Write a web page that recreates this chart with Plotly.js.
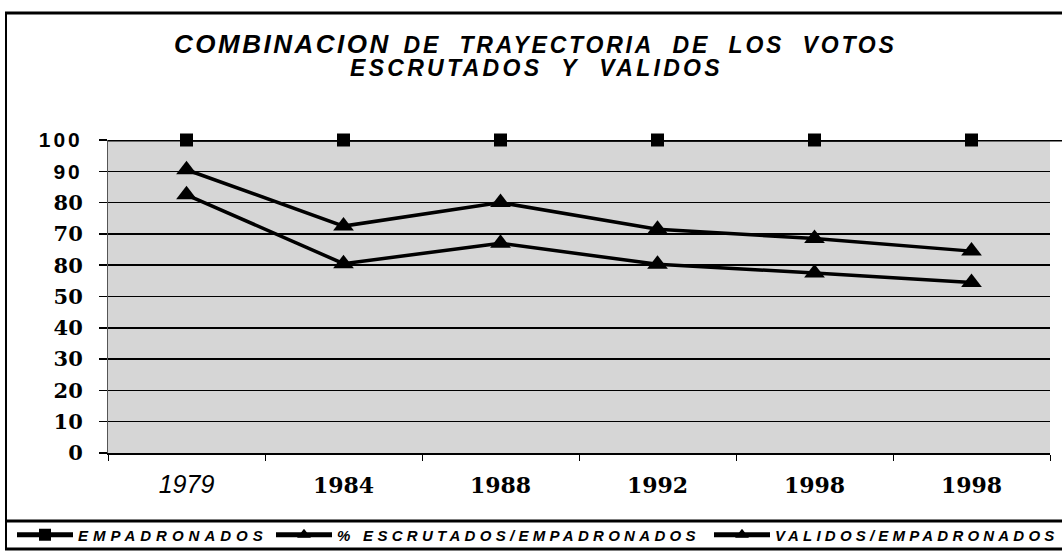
<!DOCTYPE html>
<html>
<head>
<meta charset="utf-8">
<script src="https://cdn.plot.ly/plotly-3.0.1.min.js"></script>
<style>html,body{margin:0;padding:0;background:#fff;}#chart{width:1062px;height:552px;}</style>
</head>
<body>
<div id="chart"></div>
<script>
// ---- data ----
var yearLabels = ["1979", "1984", "1988", "1992", "1998", "1998"];
var empadronados = [100, 100, 100, 100, 100, 100];
var escrutados = [90.5, 72.5, 80, 71.5, 68.5, 64.5];
var validos = [82.5, 60.5, 67, 60.3, 57.5, 54.5];
var yTickValues = [0, 10, 20, 30, 40, 50, 60, 70, 80, 90, 100];
var yTickLabels = ["0", "10", "20", "30", "40", "50", "80", "70", "80", "90", "100"];
var seriesNames = ["EMPADRONADOS", "% ESCRUTADOS/EMPADRONADOS", "VALIDOS/EMPADRONADOS"];
var titleFirstWord = "COMBINACION";
var titleRestLine1 = "DE  TRAYECTORIA  DE  LOS  VOTOS";
var titleLine2 = "ESCRUTADOS  Y  VALIDOS";

// ---- layout helpers ----
var W = 1062, H = 552, L = 108, R = 1050, T = 140, B = 453;
function px(x) { return (x - L) / (R - L); }
function py(y) { return (B - y) / (B - T); }

var xpos = yearLabels.map(function (_, i) { return i; });

var serif = "'DejaVu Serif', 'Liberation Serif', serif";
var sans = "'Liberation Sans', Arial, sans-serif";

function ls(text, px_, extra) {
  return "<span style=\"letter-spacing:" + px_ + "px" + (extra ? ";" + extra : "") + "\">" +
    text.replace(/  /g, "\u00A0 ") + "</span>";
}

var xTickText = yearLabels.map(function (t, i) {
  if (i === 0) return "<span style=\"font-family:" + sans + ";font-style:italic;font-weight:normal;font-size:25px\">" + t + "</span>";
  return "<b>" + t + "</b>";
});
var yTickText = yTickLabels.map(function (t, i) {
  if (yTickValues[i] >= 90) return "<b>" + ls(t, 3, "font-family:" + sans) + "</b>";
  return "<b>" + t + "</b>";
});

var lineStyle = { color: "#000", width: 3.5 };
var traces = [
  { x: xpos, y: empadronados, name: ls(seriesNames[0], 5), legend: "legend", type: "scatter", mode: "lines+markers",
    line: lineStyle, marker: { symbol: "square", size: 13, color: "#000" }, cliponaxis: false },
  { x: xpos, y: escrutados, name: ls(seriesNames[1], 4.3), legend: "legend2", type: "scatter", mode: "lines+markers",
    line: lineStyle, marker: { symbol: "triangle-up", size: 18, color: "#000" }, cliponaxis: false },
  { x: xpos, y: validos, name: ls(seriesNames[2], 4.2), legend: "legend3", type: "scatter", mode: "lines+markers",
    line: lineStyle, marker: { symbol: "triangle-up", size: 18, color: "#000" }, cliponaxis: false }
];

var shapes = [
  { type: "line", xref: "paper", yref: "paper", x0: px(5), x1: px(1062), y0: py(13), y1: py(13), line: { color: "#000", width: 3 } },
  { type: "line", xref: "paper", yref: "paper", x0: px(6), x1: px(6), y0: py(13), y1: py(548), line: { color: "#000", width: 2 } },
  { type: "line", xref: "paper", yref: "paper", x0: px(5), x1: px(1062), y0: py(521), y1: py(521), line: { color: "#000", width: 3 } },
  { type: "line", xref: "paper", yref: "paper", x0: px(5), x1: px(1062), y0: py(549), y1: py(549), line: { color: "#000", width: 3 } },
  { type: "line", xref: "paper", yref: "y", x0: 0, x1: px(1062), y0: 100, y1: 100, line: { color: "#000", width: 3 } }
];

var annotations = [
  { xref: "paper", yref: "paper", x: px(535), y: py(44), xanchor: "center", yanchor: "middle", showarrow: false,
    text: "<b><i>" + ls(titleFirstWord, 2.5, "font-size:26px") + "\u00A0 " + ls(titleRestLine1, 2.8) + "</i></b>",
    font: { family: sans, size: 23, color: "#000" } },
  { xref: "paper", yref: "paper", x: px(536), y: py(68), xanchor: "center", yanchor: "middle", showarrow: false,
    text: "<b><i>" + ls(titleLine2, 3.3) + "</i></b>",
    font: { family: sans, size: 23, color: "#000" } }
];

function legendAt(xPix) {
  return {
    orientation: "h",
    x: px(xPix), xanchor: "left",
    y: py(535), yanchor: "middle",
    font: { family: sans, size: 15, color: "#000", style: "italic", weight: "bold" },
    bgcolor: "rgba(0,0,0,0)",
    itemsizing: "constant",
    itemwidth: 56
  };
}

var layout = {
  width: W, height: H,
  margin: { l: L, r: W - R, t: T, b: H - B, pad: 0, autoexpand: false },
  paper_bgcolor: "#fff",
  plot_bgcolor: "#d6d6d6",
  showlegend: true,
  xaxis: {
    range: [-0.5, 5.5],
    tickmode: "array", tickvals: xpos, ticktext: xTickText,
    ticks: "", showgrid: false, zeroline: false,
    showline: true, linecolor: "#000", linewidth: 1.5,
    tickfont: { family: serif, size: 22, color: "#000" },
    ticklabelstandoff: 12,
    minor: { tickmode: "array", tickvals: [-0.5, 0.5, 1.5, 2.5, 3.5, 4.5, 5.5], ticks: "outside", ticklen: 6, tickcolor: "#000", tickwidth: 1, showgrid: false },
    fixedrange: true
  },
  yaxis: {
    range: [0, 100],
    tickmode: "array", tickvals: yTickValues, ticktext: yTickText,
    ticks: "outside", ticklen: 8, tickcolor: "#000", tickwidth: 1.5,
    showgrid: true, gridcolor: "#000", gridwidth: 1.5,
    zeroline: false, showline: true, linecolor: "#555", linewidth: 1,
    tickfont: { family: serif, size: 21, color: "#000" },
    ticklabelstandoff: 12,
    fixedrange: true
  },
  legend: legendAt(12),
  legend2: legendAt(271),
  legend3: legendAt(709),
  annotations: annotations,
  shapes: shapes
};

Plotly.newPlot("chart", traces, layout, { displayModeBar: false, staticPlot: true });
</script>
</body>
</html>
